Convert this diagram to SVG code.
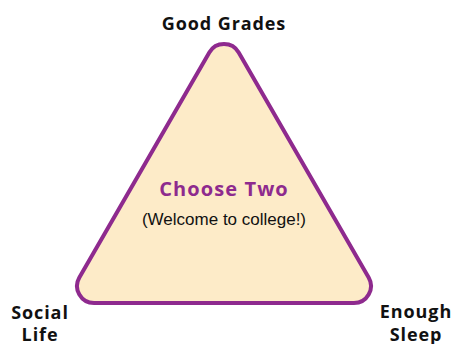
<svg xmlns="http://www.w3.org/2000/svg" width="454" height="344" viewBox="0 0 454 344">
<style>
.lbl{font-family:"Open Sans","Liberation Sans",sans-serif;font-weight:700;font-size:18px;letter-spacing:0.9px;fill:#111;text-anchor:middle}
.title{font-family:"Open Sans","Liberation Sans",sans-serif;font-weight:700;font-size:20px;letter-spacing:1.1px;fill:#8E2A8E;text-anchor:middle}
.sub{font-family:"Liberation Sans",Arial,sans-serif;font-size:17px;fill:#111;text-anchor:middle}
</style>
<rect width="454" height="344" fill="#ffffff"/>
<g id="triangle">
<path d="M 238.7 52.5 L 368.65 277.5 A 17 17 0 0 1 353.95 303 L 94.05 303 A 17 17 0 0 1 79.35 277.5 L 209.3 52.5 A 17 17 0 0 1 238.7 52.5 Z" fill="#FDEBC8" stroke="#8E2A8E" stroke-width="4" stroke-linejoin="round"/>
<text class="title" x="224" y="196">Choose Two</text>
<text class="sub" x="224" y="225">(Welcome to college!)</text>
</g>
<g id="good-grades"><text class="lbl" x="224" y="30">Good Grades</text></g>
<g id="social-life"><text class="lbl" x="40" y="319">Social</text><text class="lbl" x="40" y="341">Life</text></g>
<g id="enough-sleep"><text class="lbl" x="416" y="318">Enough</text><text class="lbl" x="416" y="341">Sleep</text></g>
<g id="connectors"></g>
</svg>
